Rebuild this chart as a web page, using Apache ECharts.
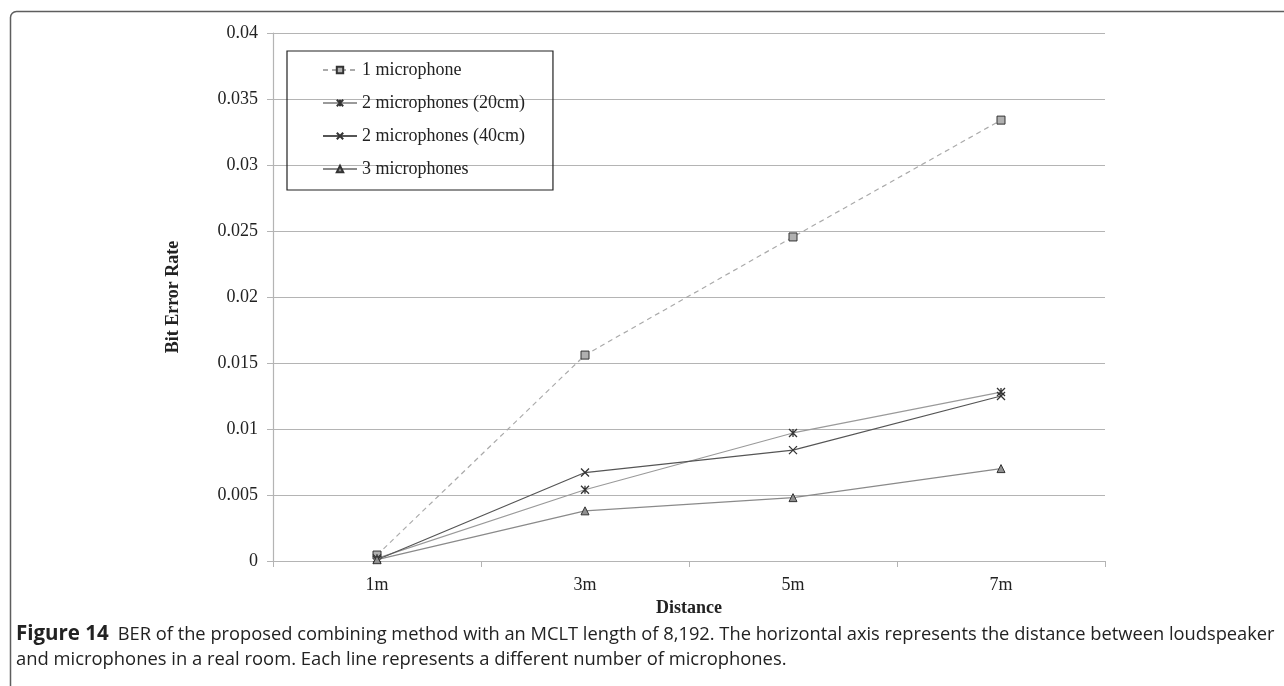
<!DOCTYPE html>
<html><head><meta charset="utf-8">
<script src="https://cdn.jsdelivr.net/npm/echarts@6/dist/echarts.min.js"></script>
<style>html,body{margin:0;padding:0;background:#fff;}#c{width:1284px;height:686px;}</style>
</head><body><div id="c"></div>
<script>
const categories = ['1m', '3m', '5m', '7m'];
const seriesNames = ['1 microphone', '2 microphones (20cm)', '2 microphones (40cm)', '3 microphones'];
const mic1 = [0.00045, 0.0156, 0.02455, 0.0334];
const mic2_20 = [0.0002, 0.0054, 0.0097, 0.0128];
const mic2_40 = [0.0001, 0.0067, 0.0084, 0.0125];
const mic3 = [0.0001, 0.0038, 0.0048, 0.0070];
const yTicks = { min: 0, max: 0.04, interval: 0.005 };
const captionBold = 'Figure 14';
const captionLine1 = 'BER of the proposed combining method with an MCLT length of 8,192. The horizontal axis represents the distance between loudspeaker';
const captionLine2 = 'and microphones in a real room. Each line represents a different number of microphones.';

const serif = '"Liberation Serif", "Times New Roman", serif';
const sans = '"Open Sans", "Noto Sans", sans-serif';
const chart = echarts.init(document.getElementById('c'));
const asterisk = 'path://M0,0L10,10M10,0L0,10M5,0L5,10';
const cross = 'path://M0,0L10,10M10,0L0,10';

function mk(name, data, color, dashed, symbol, size, fill, bw) {
  return {
    name, type: 'line', data, symbol, symbolSize: size,
    lineStyle: { color, width: 1.2, type: dashed ? [5, 4] : 'solid' },
    itemStyle: { color: fill, borderColor: '#333', borderWidth: bw },
    emphasis: { disabled: true }, animation: false, z: 3
  };
}

chart.setOption({
  backgroundColor: '#fff',
  animation: false,
  grid: { left: 273, right: 179, top: 33, bottom: 125, containLabel: false },
  legend: {
    orient: 'vertical', left: 287, top: 51,
    data: seriesNames,
    itemWidth: 34, itemHeight: 8, itemGap: 15,
    padding: [10, 28, 12, 35],
    borderColor: '#222', borderWidth: 1.2,
    textStyle: { fontFamily: serif, fontSize: 18, color: '#222', lineHeight: 18 }
  },
  xAxis: {
    type: 'category', data: categories, boundaryGap: true,
    name: 'Distance', nameLocation: 'middle', nameGap: 35,
    nameTextStyle: { fontFamily: serif, fontSize: 18, fontWeight: 'bold', color: '#222' },
    axisLine: { lineStyle: { color: '#b4b4b4', width: 1.2 } },
    axisTick: { show: true, length: 6, alignWithLabel: false, lineStyle: { color: '#b4b4b4' } },
    axisLabel: { fontFamily: serif, fontSize: 18, color: '#222', margin: 15 }
  },
  yAxis: {
    type: 'value', min: yTicks.min, max: yTicks.max, interval: yTicks.interval,
    name: 'Bit Error Rate', nameLocation: 'middle', nameGap: 91, nameRotate: 90,
    nameTextStyle: { fontFamily: serif, fontSize: 18, fontWeight: 'bold', color: '#222' },
    axisLine: { show: true, lineStyle: { color: '#b4b4b4', width: 1.2 } },
    axisTick: { show: true, length: 6, lineStyle: { color: '#b4b4b4' } },
    splitLine: { lineStyle: { color: '#b4b4b4', width: 1.2 } },
    axisLabel: { fontFamily: serif, fontSize: 18, color: '#222', margin: 15,
      formatter: v => String(parseFloat(v.toFixed(4))) }
  },
  series: [
    mk(seriesNames[0], mic1, '#aaaaaa', true, 'rect', 8, '#b0b0b0', 1),
    mk(seriesNames[1], mic2_20, '#9a9a9a', false, asterisk, 8, 'none', 1.3),
    mk(seriesNames[2], mic2_40, '#555555', false, cross, 8, 'none', 1.3),
    mk(seriesNames[3], mic3, '#8a8a8a', false, 'triangle', 8, '#909090', 1)
  ],
  graphic: [
    { type: 'rect', left: 8, top: 9, shape: { width: 1400, height: 800, r: [6, 0, 0, 0] },
      style: { fill: 'none', stroke: '#5e5e5e', lineWidth: 1.5 }, silent: true, z: -10 },
    { type: 'text', left: 16, top: 624, style: {
        text: '{b|' + captionBold + '}{r|' + captionLine1 + '}',
        rich: {
          b: { fontFamily: sans, fontWeight: 'bold', fontSize: 20.5, fill: '#222', lineHeight: 24, padding: [0, 9, 0, 0] },
          r: { fontFamily: sans, fontSize: 18.3, fill: '#222', lineHeight: 24 }
        } } },
    { type: 'text', left: 16, top: 648, style: {
        text: captionLine2, fontFamily: sans, fontSize: 18.4, fill: '#222', lineHeight: 24 } }
  ]
});
</script></body></html>
